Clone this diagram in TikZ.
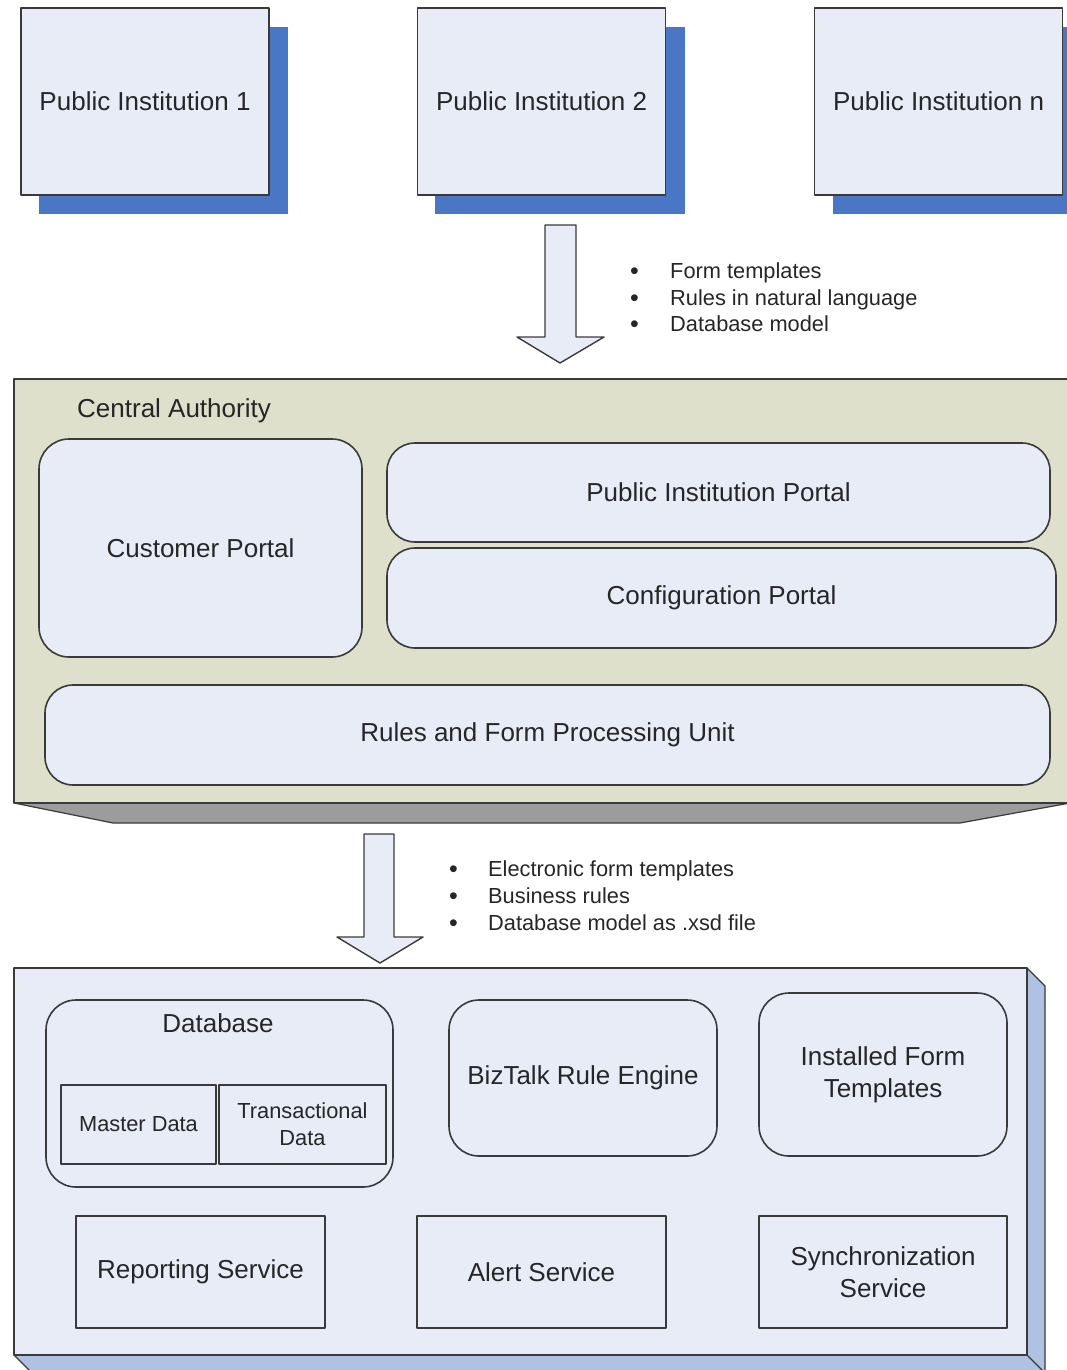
\documentclass[tikz,border=0pt]{standalone}
\usepackage{fontspec}
\setmainfont{Liberation Sans}
\definecolor{boxfill}{HTML}{E8ECF7}
\definecolor{shadowblue}{HTML}{4A76C6}
\definecolor{cafill}{HTML}{DEE0CB}
\definecolor{bevelgray}{HTML}{9C9C9C}
\definecolor{sideblue}{HTML}{AFC2E4}
\definecolor{edge}{HTML}{3A3A3A}
\definecolor{ink}{HTML}{262626}
\newcommand{\bul}[1]{\makebox[#1][l]{\raisebox{-1.5pt}{\fontsize{25}{27}\selectfont\textbullet}}}
\begin{document}
\begin{tikzpicture}[x=1pt,y=-1pt,line join=round,
  every node/.style={text=ink},
  big/.style={font=\fontsize{26}{32}\selectfont},
  small/.style={font=\fontsize{21.8}{27}\selectfont},
  frame/.style={draw=edge,line width=1.6pt,fill=boxfill,inner sep=0pt,align=center},
  instbox/.style={frame,big,minimum width=248pt,minimum height=187pt},
  shadowbox/.style={fill=shadowblue},
  portal/.style={frame,big,rounded corners=28pt},
  plainbox/.style={frame,big},
  blockarrow/.style={draw=edge,line width=1.4pt,fill=boxfill},
  item/.style={small,anchor=base west,inner sep=0pt},
]
\useasboundingbox (0,0) rectangle (1067,1370);

% ---- public institutions with drop shadows
\fill[shadowbox] (39,27) rectangle (288,214);
\fill[shadowbox] (435,27) rectangle (685,214);
\fill[shadowbox] (833,27) rectangle (1075,214);
\node[instbox] (pi1) at (145,101.5) {Public Institution 1};
\node[instbox] (pi2) at (541.5,101.5) {Public Institution 2};
\node[instbox] (pin) at (938.5,101.5) {Public Institution n};

% ---- first transfer arrow and its list
\draw[blockarrow] (545,225) -- (576,225) -- (576,337) -- (604,337) -- (560,363)
  -- (517,337) -- (545,337) -- cycle;
\node[item] (la) at (630,278) {\bul{40pt}Form templates};
\node[item] (lb) at (630,305) {\bul{40pt}Rules in natural language};
\node[item] (lc) at (630,331) {\bul{40pt}Database model};

% ---- central authority panel with bevel
\fill[bevelgray,draw=edge,line width=1.2pt] (14,803) -- (1070,803) -- (960,823) -- (113,823) -- cycle;
\node[draw=edge,line width=1.6pt,fill=cafill,minimum width=1061pt,minimum height=424pt,inner sep=0pt]
  (ca) at (544.5,591) {};
\node[big,anchor=west,inner sep=0pt] (catitle) at (77,411) {Central Authority};
\node[portal,rounded corners=30pt,minimum width=323pt,minimum height=218pt] (cp) at (200.5,548) {Customer Portal};
\node[portal,minimum width=663pt,minimum height=99pt] (pip) at (718.5,492.5) {Public Institution Portal};
\node[portal,minimum width=669pt,minimum height=100pt] (cfg) at (721.5,598) {Configuration Portal};
\node[portal,minimum width=1005pt,minimum height=100pt] (rfp) at (547.5,735) {Rules and Form Processing Unit};

% ---- second transfer arrow and its list
\draw[blockarrow] (364,834) -- (394,834) -- (394,937) -- (423,937) -- (380,963)
  -- (337,937) -- (364,937) -- cycle;
\node[item] (ld) at (449,876) {\bul{39pt}Electronic form templates};
\node[item] (le) at (449,903) {\bul{39pt}Business rules};
\node[item] (lf) at (449,930) {\bul{39pt}Database model as .xsd file};

% ---- deployment block drawn as a slab
\fill[sideblue,draw=edge,line width=1.2pt] (1027,968) -- (1045,986) -- (1045,1378) -- (1027,1356) -- cycle;
\fill[sideblue,draw=edge,line width=1.2pt] (14,1355) -- (1027,1355) -- (1045,1373) -- (32,1373) -- cycle;
\node[draw=edge,line width=1.6pt,fill=boxfill,minimum width=1013pt,minimum height=387pt,inner sep=0pt]
  (dc) at (520.5,1161.5) {};

% database with its two stores
\node[portal,rounded corners=30pt,minimum width=347pt,minimum height=187pt] (db) at (219.5,1093.5) {};
\node[big,inner sep=0pt] (dbtitle) at (218,1023) {Database};
\node[plainbox,small,minimum width=155pt,minimum height=79pt] (md) at (138.5,1124.5) {Master Data};
\node[plainbox,small,minimum width=167pt,minimum height=79pt] (td) at (302.5,1124.5) {Transactional\\Data};

\node[portal,rounded corners=30pt,minimum width=268pt,minimum height=156pt] (bre) at (583,1078) {BizTalk Rule Engine};
\node[portal,rounded corners=30pt,minimum width=248pt,minimum height=163pt] (ift) at (883,1074.5) {Installed Form\\Templates};

\node[plainbox,minimum width=249pt,minimum height=112pt] (rs) at (200.5,1272) {Reporting Service};
\node[plainbox,minimum width=249pt,minimum height=112pt] (as) at (541.5,1272) {Alert Service};
\node[plainbox,minimum width=248pt,minimum height=112pt] (ss) at (883,1272) {Synchronization\\Service};
\end{tikzpicture}
\end{document}
